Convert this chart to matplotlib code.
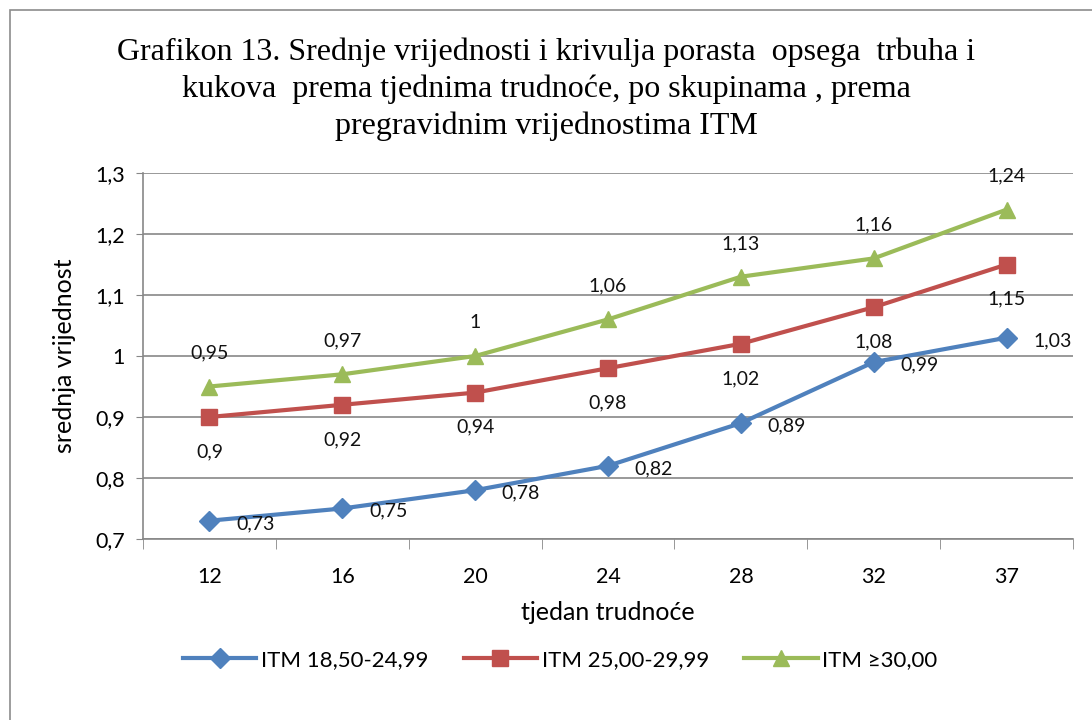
import matplotlib.pyplot as plt
from matplotlib.patches import Rectangle
from matplotlib.ticker import FuncFormatter, FixedLocator

weeks = ['12', '16', '20', '24', '28', '32', '37']
itm_normal = [0.73, 0.75, 0.78, 0.82, 0.89, 0.99, 1.03]
itm_over = [0.90, 0.92, 0.94, 0.98, 1.02, 1.08, 1.15]
itm_obese = [0.95, 0.97, 1.00, 1.06, 1.13, 1.16, 1.24]
series_names = ['ITM 18,50-24,99', 'ITM 25,00-29,99', 'ITM \u226530,00']

blue = '#4F81BD'
red = '#C0504D'
green = '#9BBB59'
grid_col = '#878787'


def comma(v):
    s = ('%.2f' % v).rstrip('0').rstrip('.')
    return s.replace('.', ',')


plt.rcParams['font.family'] = ['Lato', 'DejaVu Sans']

fig = plt.figure(figsize=(10.92, 7.2), dpi=100)
fig.patches.append(Rectangle((0.009, -0.05), 1.2, 1.036, transform=fig.transFigure,
                             fill=False, edgecolor='#8c8c8c', linewidth=1.2))

ax = fig.add_axes([0.131, 0.2514, 0.8516, 0.5083])
x = list(range(len(weeks)))

ax.plot(x, itm_normal, color=blue, lw=3, marker='D', ms=10, label=series_names[0], zorder=3)
ax.plot(x, itm_over, color=red, lw=3, marker='s', ms=11, label=series_names[1], zorder=3)
ax.plot(x, itm_obese, color=green, lw=3, marker='^', ms=12, label=series_names[2], zorder=3)

# data labels: blue to the right, red below, green above
for xi, v in zip(x, itm_normal):
    ax.annotate(comma(v), (xi, v), xytext=(33, -2), textcoords='offset points',
                ha='center', va='center', fontsize=14, color='#111111')
for xi, v in zip(x, itm_over):
    ax.annotate(comma(v), (xi, v), xytext=(0, -25), textcoords='offset points',
                ha='center', va='center', fontsize=14, color='#111111')
for xi, v in zip(x, itm_obese):
    ax.annotate(comma(v), (xi, v), xytext=(0, 24), textcoords='offset points',
                ha='center', va='center', fontsize=14, color='#111111')

ax.set_xlim(-0.5, len(weeks) - 0.5)
ax.set_ylim(0.7, 1.3)
ax.set_yticks([0.7, 0.8, 0.9, 1.0, 1.1, 1.2, 1.3])
ax.yaxis.set_major_formatter(FuncFormatter(lambda v, p: comma(v)))
ax.set_xticks(x)
ax.set_xticklabels(weeks)
ax.xaxis.set_minor_locator(FixedLocator([i - 0.5 for i in range(len(weeks) + 1)]))
ax.tick_params(axis='x', which='major', length=0, pad=20, labelsize=15.5)
ax.tick_params(axis='x', which='minor', length=7, color=grid_col, direction='out')
ax.tick_params(axis='y', length=5, color=grid_col, labelsize=15.5, pad=8)

ax.grid(axis='y', color=grid_col, lw=1.2)
ax.set_axisbelow(True)
for side in ['top', 'right']:
    ax.spines[side].set_visible(False)
for side in ['left', 'bottom']:
    ax.spines[side].set_color(grid_col)
    ax.spines[side].set_linewidth(1.2)

ax.set_xlabel('tjedan trudnoće', fontsize=18, labelpad=10)
ax.set_ylabel('srednja vrijednost', fontsize=18, labelpad=14)

fig.text(0.5, 0.876, 'Grafikon 13. Srednje vrijednosti i krivulja porasta  opsega  trbuha i\n'
         'kukova  prema tjednima trudnoće, po skupinama , prema\n'
         'pregravidnim vrijednostima ITM',
         ha='center', va='center', fontsize=23, family=['Liberation Serif', 'DejaVu Serif'],
         linespacing=1.32)

fig.legend(loc='center', bbox_to_anchor=(0.513, 0.083), ncol=3, frameon=False,
           fontsize=16, handlelength=3.3, columnspacing=1.6, handletextpad=0.2)

fig.savefig('out.png', dpi=100)
